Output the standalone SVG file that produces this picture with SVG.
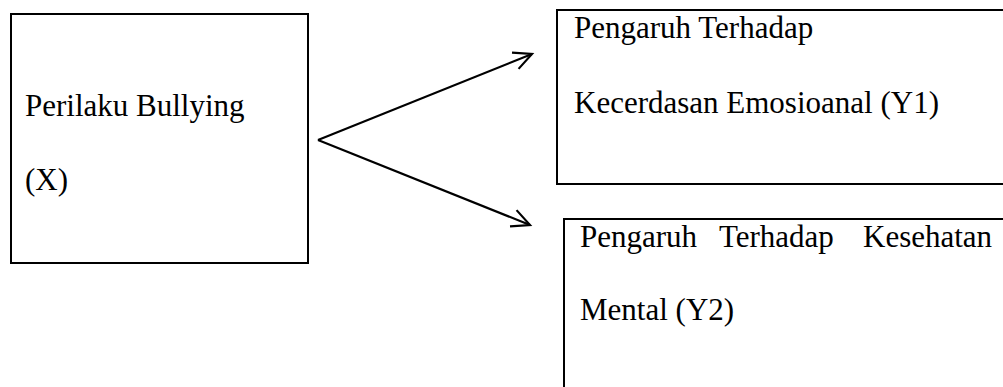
<svg xmlns="http://www.w3.org/2000/svg" width="1003" height="387" viewBox="0 0 1003 387">
  <style>
    .box { fill: #ffffff; stroke: #000000; stroke-width: 2; }
    .lbl { font-family: "Liberation Serif", "Times New Roman", serif; font-size: 31px; fill: #000000; }
    .conn { fill: none; stroke: #000000; stroke-width: 2.2; }
  </style>
  <defs>
    <marker id="arrow" markerUnits="userSpaceOnUse" viewBox="-22 -12 26 24" refX="0" refY="0" markerWidth="26" markerHeight="24" orient="auto">
      <path d="M -18,-8.8 L 0,0 L -18,8.8" fill="none" stroke="#000000" stroke-width="2.2" stroke-linejoin="miter"/>
    </marker>
  </defs>
  <rect width="1003" height="387" fill="#ffffff"/>
  <g id="node-x">
    <rect class="box" x="11" y="14" width="297" height="249"/>
    <text class="lbl" x="25" y="116">Perilaku Bullying</text>
    <text class="lbl" x="25" y="190">(X)</text>
  </g>
  <g id="node-y1">
    <rect class="box" x="557" y="10" width="460" height="174"/>
    <text class="lbl" x="574" y="38">Pengaruh Terhadap</text>
    <text class="lbl" x="574" y="113">Kecerdasan Emosioanal (Y1)</text>
  </g>
  <g id="node-y2">
    <rect class="box" x="564" y="219" width="460" height="190"/>
    <text class="lbl" y="247"><tspan x="580">Pengaruh</tspan><tspan x="719">Terhadap</tspan><tspan x="863">Kesehatan</tspan></text>
    <text class="lbl" x="580" y="320">Mental (Y2)</text>
  </g>
  <g id="connectors">
    <path class="conn" d="M 318,140 L 532,54" marker-end="url(#arrow)"/>
    <path class="conn" d="M 318,140 L 530,225" marker-end="url(#arrow)"/>
  </g>
</svg>
